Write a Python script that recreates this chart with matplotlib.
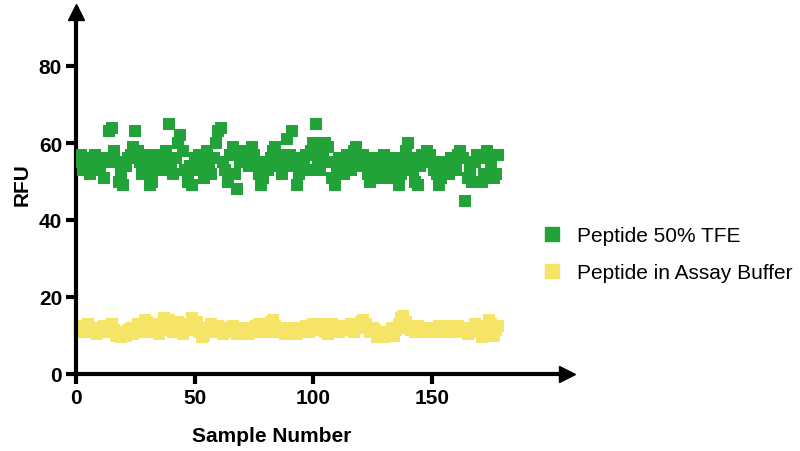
import matplotlib
matplotlib.use("Agg")
import matplotlib.pyplot as plt
from matplotlib.lines import Line2D
import numpy as np

plt.rcParams['font.family'] = ['Liberation Sans', 'DejaVu Sans']

# ---- data ----
green_vals = [
    55, 57, 53, 56, 54, 52, 55, 57, 53, 54,
    56, 51, 55, 63, 64, 58, 55, 50, 52, 49,
    54, 56, 57, 59, 63, 58, 55, 52, 54, 57,
    49, 50, 53, 55, 57, 53, 56, 58, 65, 54,
    52, 56, 60, 62, 58, 53, 50, 54, 49, 56,
    53, 57, 55, 51, 58, 54, 52, 56, 60, 63,
    64, 55, 53, 50, 57, 59, 52, 48, 55, 57,
    58, 56, 54, 59, 57, 55, 52, 49, 51, 55,
    53, 56, 58, 59, 57, 54, 52, 55, 61, 57,
    63, 54, 49, 52, 56, 55, 57, 53, 58, 60,
    65, 56, 53, 58, 60, 59, 55, 51, 49, 53,
    56, 54, 52, 57, 55, 53, 58, 59, 56, 54,
    57, 55, 52, 50, 54, 56, 53, 51, 54, 57,
    55, 53, 51, 56, 54, 49, 52, 55, 58, 60,
    56, 53, 50, 49, 54, 57, 55, 58, 57, 55,
    53, 52, 49, 51, 55, 54, 52, 56, 55, 53,
    57, 58, 56, 45, 51, 53, 50, 55, 57, 56,
    50, 52, 58, 57, 54, 51, 52, 57,
]
yellow_vals = [
    12, 11, 12.5, 11, 13, 12, 11.5, 12, 10.5, 12,
    11, 12.5, 11, 12, 13, 11.5, 10, 11, 9.5, 10.5,
    10, 11.5, 12, 10.5, 12, 13, 11, 12.5, 14, 13.5,
    12, 11, 13, 12, 10.5, 11.5, 14.5, 13, 14, 12,
    11, 12.5, 13.5, 11, 10.5, 12, 11.5, 13, 14.5, 12,
    13.5, 11, 9.5, 10, 12, 11.5, 13, 12, 11, 12.5,
    12, 10.5, 11, 12, 11.5, 12.5, 11, 10.5, 12, 11,
    12, 11.5, 10.5, 12, 11, 12.5, 13, 11.5, 12, 11,
    12.5, 13.5, 14, 12.5, 11, 12, 11.5, 10.5, 11, 12,
    11.5, 12, 10.5, 11, 12, 11.5, 12.5, 11, 12, 13,
    12, 11.5, 13, 12, 11, 10.5, 12.5, 13, 11.5, 12,
    11, 12, 12.5, 11.5, 12, 13, 11, 12.5, 12, 13.5,
    14, 13, 12, 11, 12, 11.5, 9.5, 10, 11, 9.5,
    10.5, 11, 12, 10, 11.5, 13, 14.5, 15, 13.5, 12,
    11.5, 12, 11, 12.5, 12, 11.5, 12, 11, 12, 11.5,
    12, 11, 12.5, 11.5, 11, 12, 11.5, 12.5, 11, 12,
    12.5, 11.5, 12, 11, 10.5, 12, 11, 13, 12.5, 11,
    9.5, 10.5, 12, 14, 13, 10, 11.5, 12.5,
]
sample_green = list(range(1, len(green_vals) + 1))
sample_yellow = list(range(1, len(yellow_vals) + 1))
series_labels = ["Peptide 50% TFE", "Peptide in Assay Buffer"]
x_ticks = [0, 50, 100, 150]
y_ticks = [0, 20, 40, 60, 80]

GREEN = "#22a33a"
YELLOW = "#f6e466"

fig = plt.figure(figsize=(8, 4.52), dpi=100)
ax = fig.add_axes([76/800, 77/452, (567-76)/800, (439-77)/452])

ax.scatter(sample_yellow, yellow_vals, marker='s', s=70, color=YELLOW,
           linewidths=0, zorder=2)
ax.scatter(sample_green, green_vals, marker='s', s=70, color=GREEN,
           linewidths=0, zorder=3)

ax.set_xlim(0, (567-76)/2.373)
ax.set_ylim(0, (439-77)/3.85)
ax.set_xticks(x_ticks)
ax.set_yticks(y_ticks)
for s in ['top', 'right']:
    ax.spines[s].set_visible(False)
for s in ['left', 'bottom']:
    ax.spines[s].set_linewidth(3)
    ax.spines[s].set_capstyle('butt')
ax.tick_params(width=3, length=7, labelsize=15, pad=3)
for lab in ax.get_xticklabels() + ax.get_yticklabels():
    lab.set_fontweight('bold')

# arrowheads
ax.plot(0, 1, marker='^', color='black', ms=11, transform=ax.get_xaxis_transform(),
        clip_on=False, zorder=5)
ax.plot(1, 0, marker='>', color='black', ms=11, transform=ax.get_yaxis_transform(),
        clip_on=False, zorder=5)

ax.set_xlabel("Sample Number", fontsize=15, fontweight='bold')
ax.xaxis.set_label_coords((272-76)/491, -(437-375)/362, transform=ax.transAxes)
ax.xaxis.label.set_verticalalignment('center')
fig.text(22/800, 1 - 185/452, "RFU", rotation=90, fontsize=15, fontweight='bold',
         ha='center', va='center')

handles = [Line2D([], [], marker='s', ls='none', color=GREEN, ms=10),
           Line2D([], [], marker='s', ls='none', color=YELLOW, ms=10)]
fig.legend(handles, series_labels, loc='center left',
           bbox_to_anchor=(531/800, 1 - 255/452), frameon=False,
           fontsize=15, handletextpad=0.6, labelspacing=0.85,
           handlelength=1.2, borderaxespad=0)

fig.savefig("out.png", dpi=100)
